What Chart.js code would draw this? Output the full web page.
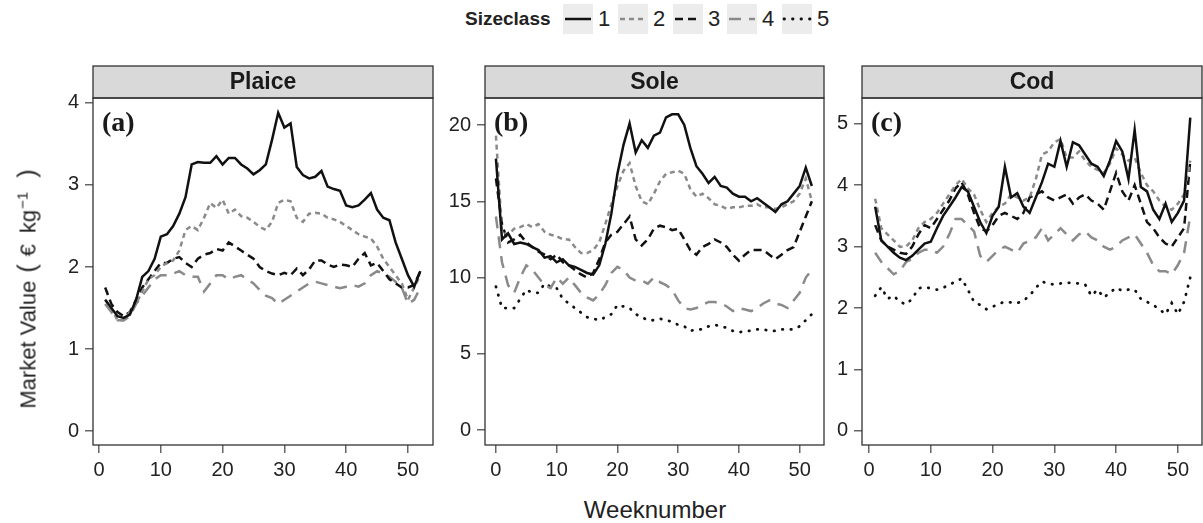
<!DOCTYPE html>
<html>
<head>
<meta charset="utf-8">
<script src="https://cdn.jsdelivr.net/npm/chart.js@4/dist/chart.umd.min.js"></script>
<style>
  body { margin: 0; background: #fff; font-family: "Liberation Sans", Arial, sans-serif; color: #222; }
  #wrap { position: relative; width: 1203px; height: 523px; overflow: hidden; }
  canvas.panel { position: absolute; }
  .abs { position: absolute; white-space: nowrap; }
  .keybox { position: absolute; top: 4px; width: 30px; height: 30px; background: #ececec; }
  .keylab { position: absolute; top: 5px; font-size: 22px; line-height: 28px; }
</style>
</head>
<body>
<div id="wrap">
  <div class="abs" style="left:465px; top:7px; font-size:19px; font-weight:bold; line-height:24px;">Sizeclass</div>
  <div id="legend"></div>

  <canvas class="panel" id="plaice" width="396" height="420" style="left:40px; top:60px;"></canvas>
  <canvas class="panel" id="sole" width="389" height="420" style="left:437px; top:60px;"></canvas>
  <canvas class="panel" id="cod" width="377" height="420" style="left:826px; top:60px;"></canvas>

  <div class="abs" style="left:27px; top:289px; font-size:22px; transform:translate(-50%,-50%) rotate(-90deg);">Market Value<span style="margin-left:8px; font-size:25px">(</span><span style="margin-left:8px">€</span><span style="margin-left:11px">kg</span><sup style="font-size:15px; margin-left:1px">−1</sup><span style="margin-left:14px; font-size:25px">)</span></div>
  <div class="abs" style="left:655px; top:510px; font-size:24px; transform:translate(-50%,-50%);">Weeknumber</div>
</div>

<script>
// week numbers per species
var plaiceWeeks = Array.from({length: 52}, (v, i) => i + 1);
var soleWeeks = Array.from({length: 53}, (v, i) => i);
var codWeeks = Array.from({length: 52}, (v, i) => i + 1);

var sizeClasses = ['1', '2', '3', '4', '5'];

// Plaice (no size class 5)
var plaice1 = [1.6,1.5,1.4,1.38,1.42,1.6,1.88,1.95,2.1,2.37, 2.4,2.5,2.65,2.85,3.25,3.28,3.27,3.27,3.35,3.25,
  3.33,3.33,3.25,3.2,3.13,3.18,3.25,3.55,3.88,3.7, 3.75,3.22,3.12,3.08,3.1,3.17,2.98,2.95,2.93,2.75,
  2.73,2.75,2.82,2.9,2.7,2.6,2.57,2.3,2.1,1.9, 1.76,1.95];
var plaice2 = [1.6,1.5,1.35,1.35,1.45,1.55,1.7,1.85,1.9,2.0, 2.05,2.08,2.2,2.45,2.5,2.45,2.6,2.78,2.72,2.82,
  2.65,2.7,2.62,2.6,2.55,2.49,2.45,2.55,2.78,2.82, 2.8,2.6,2.55,2.65,2.66,2.65,2.6,2.58,2.55,2.5,
  2.45,2.4,2.37,2.35,2.25,2.1,2.0,1.9,1.8,1.6, 1.75,1.9];
var plaice3 = [1.75,1.55,1.45,1.4,1.45,1.6,1.75,1.85,1.95,2.05, 2.05,2.1,2.12,2.05,2.0,2.1,2.15,2.17,2.22,2.2,
  2.3,2.25,2.2,2.15,2.1,2.0,1.95,1.92,1.9,1.93, 1.9,1.98,1.9,1.97,2.08,2.08,2.03,2.0,2.03,2.02,
  2.0,2.1,2.17,2.02,2.05,1.95,1.85,1.8,1.75,1.75, 1.78,1.95];
var plaice4 = [1.55,1.45,1.35,1.35,1.4,1.55,1.65,1.75,1.85,1.9, 1.9,1.92,1.95,1.9,1.88,1.88,1.7,1.8,1.9,1.9,
  1.85,1.88,1.9,1.85,1.8,1.72,1.65,1.62,1.55,1.6, 1.65,1.7,1.75,1.8,1.82,1.8,1.78,1.76,1.74,1.76,
  1.78,1.76,1.8,1.9,1.95,1.92,1.88,1.82,1.75,1.55, 1.6,1.75];

// Sole (weeks 0-52)
var sole1 = [17.8,12.5,12.9,12.2,12.3,12.2,12.0,11.8,11.3,11.4, 11.0,11.2,10.8,10.7,10.5,10.3,10.2,10.8,12.2,14.2,
  16.8,18.7,20.1,18.2,19.0,18.5,19.3,19.5,20.5,20.7, 20.7,20.0,18.5,17.3,16.8,16.2,16.6,16.0,15.9,15.5,
  15.3,15.3,15.0,15.2,14.9,14.6,14.3,14.8,15.0,15.5, 16.0,17.2,16.0];
var sole2 = [19.3,13.0,12.8,13.2,13.3,13.5,13.3,13.5,13.0,12.8, 12.7,12.5,12.5,12.0,11.6,11.6,11.8,12.3,13.5,14.8,
  16.0,17.0,17.5,16.0,15.0,14.8,15.5,16.3,16.8,16.9, 17.0,16.8,15.8,15.3,15.5,15.2,14.8,14.7,14.5,14.6,
  14.6,14.7,14.7,14.8,14.6,14.6,14.5,14.6,14.8,15.0, 15.5,16.5,15.0];
var sole3 = [16.5,13.5,12.3,12.5,12.8,12.3,12.0,11.7,11.5,11.2, 11.5,11.0,10.8,10.5,10.2,10.0,10.3,11.2,12.3,12.8,
  13.0,13.5,14.0,12.5,12.1,12.5,13.2,13.4,13.3,13.1, 13.2,12.5,11.8,11.5,12.0,12.2,12.5,12.3,12.0,11.5,
  11.1,11.5,11.8,11.8,11.8,11.5,11.2,11.5,11.8,12.0, 13.0,14.0,15.0];
var sole4 = [14.0,11.0,9.5,9.0,10.0,10.8,10.5,10.0,9.5,9.3, 10.0,9.6,10.0,9.5,9.0,8.7,8.5,8.9,9.5,10.3,
  10.7,10.5,10.0,9.8,9.8,9.6,10.0,9.7,9.5,9.2, 8.5,8.0,7.9,8.0,8.2,8.4,8.4,8.3,8.1,7.8,
  8.0,7.9,7.8,8.0,8.3,8.5,8.3,8.2,8.0,8.5, 9.0,10.0,10.5];
var sole5 = [9.4,8.0,8.0,8.0,8.6,9.2,9.0,9.0,9.6,9.4, 9.3,8.6,8.3,8.0,7.7,7.4,7.3,7.2,7.4,7.6,
  8.2,8.1,8.0,7.6,7.4,7.2,7.2,7.3,7.2,7.1, 6.9,6.8,6.5,6.6,6.6,6.8,6.9,6.8,6.7,6.5,
  6.4,6.5,6.5,6.6,6.6,6.5,6.5,6.6,6.6,6.6, 6.8,7.2,7.6];

// Cod
var cod1 = [3.65,3.1,3.0,2.9,2.82,2.78,2.85,2.95,3.05,3.08, 3.3,3.5,3.65,3.8,3.97,3.9,3.65,3.4,3.22,3.5,
  3.65,4.3,3.8,3.87,3.65,3.55,3.8,4.05,4.35,4.3, 4.72,4.3,4.7,4.65,4.5,4.35,4.3,4.15,4.4,4.72,
  4.55,4.1,4.9,3.97,3.9,3.6,3.45,3.7,3.4,3.55, 3.75,5.1];
var cod2 = [3.78,3.3,3.2,3.1,3.0,3.0,3.1,3.3,3.4,3.45, 3.55,3.7,3.85,4.0,4.1,3.95,3.85,3.6,3.4,3.55,
  3.65,3.7,3.85,3.8,3.75,3.8,4.1,4.5,4.55,4.7, 4.75,4.45,4.45,4.55,4.4,4.3,4.25,4.2,4.35,4.6,
  4.5,4.4,4.45,4.2,4.0,3.9,3.75,3.65,3.6,3.7, 3.85,4.4];
var cod3 = [3.35,3.1,3.0,2.95,2.9,2.88,3.0,3.2,3.35,3.3, 3.45,3.6,3.75,3.95,4.05,3.85,3.55,3.3,3.25,3.35,
  3.5,3.55,3.5,3.45,3.55,3.8,3.85,3.9,3.8,3.75, 3.8,3.85,3.7,3.8,3.85,3.75,3.7,3.6,3.9,4.2,
  3.9,3.75,4.0,3.7,3.4,3.3,3.15,3.05,3.0,3.15, 3.3,4.4];
var cod4 = [2.9,2.75,2.65,2.55,2.6,2.75,2.8,2.9,2.95,2.95, 2.9,3.0,3.2,3.45,3.45,3.35,3.25,2.85,2.75,2.85,
  2.95,3.0,2.95,2.9,3.05,3.1,3.15,3.3,3.1,3.2, 3.3,3.2,3.1,3.2,3.25,3.15,3.1,3.0,2.95,3.0,
  3.1,3.15,3.2,3.05,2.9,2.7,2.6,2.6,2.55,2.7, 2.9,3.5];
var cod5 = [2.2,2.34,2.15,2.2,2.1,2.06,2.15,2.32,2.34,2.32, 2.3,2.33,2.38,2.43,2.48,2.3,2.1,2.05,1.98,2.02,
  2.07,2.1,2.09,2.08,2.12,2.2,2.33,2.43,2.4,2.38, 2.4,2.41,2.41,2.4,2.38,2.2,2.3,2.17,2.25,2.33,
  2.28,2.3,2.3,2.15,2.1,2.05,1.98,1.9,2.08,1.9, 2.1,2.5];

// line style per size class
var lineColors = ['#111111', '#8a8a8a', '#111111', '#8a8a8a', '#111111'];
var lineDashes = [[], [5, 4], [8, 5], [12, 8], [0.5, 8]];
var lineWidths = [2.5, 2.5, 2.5, 2.5, 2.8];

var FONT = '"Liberation Sans", Arial, sans-serif';

// legend keys
var legend = document.getElementById('legend');
var keyLefts = [563, 618, 673, 727, 782];
sizeClasses.forEach(function(cls, i) {
  var box = document.createElement('div');
  box.className = 'keybox';
  box.style.left = keyLefts[i] + 'px';
  var c = document.createElement('canvas');
  c.width = 30; c.height = 30;
  box.appendChild(c);
  var g = c.getContext('2d');
  g.strokeStyle = lineColors[i];
  g.lineWidth = lineWidths[i];
  g.lineCap = i === 4 ? 'round' : 'butt';
  g.setLineDash(lineDashes[i]);
  g.beginPath(); g.moveTo(2, 15); g.lineTo(28, 15); g.stroke();
  legend.appendChild(box);
  var lab = document.createElement('div');
  lab.className = 'keylab';
  lab.style.left = (keyLefts[i] + 35) + 'px';
  lab.textContent = cls;
  legend.appendChild(lab);
});

// strip header, panel border and panel letter
var panelDecor = {
  id: 'panelDecor',
  afterDraw: function(chart, args, opts) {
    var ctx = chart.ctx, a = chart.chartArea;
    var w = a.right - a.left;
    ctx.save();
    ctx.fillStyle = '#d9d9d9';
    ctx.fillRect(a.left, opts.stripTop, w, a.top - opts.stripTop);
    ctx.strokeStyle = '#333';
    ctx.lineWidth = 1.3;
    ctx.strokeRect(a.left, opts.stripTop, w, a.top - opts.stripTop);
    ctx.strokeRect(a.left, a.top, w, a.bottom - a.top);
    ctx.fillStyle = '#1a1a1a';
    ctx.font = 'bold 23px ' + FONT;
    ctx.textAlign = 'center';
    ctx.textBaseline = 'middle';
    ctx.fillText(opts.title, a.left + w / 2, (opts.stripTop + a.top) / 2 + 1);
    ctx.font = 'bold 28px "Liberation Serif", "Times New Roman", serif';
    ctx.textAlign = 'left';
    ctx.fillText(opts.tag, a.left + 9, a.top + 26);
    ctx.restore();
  }
};

function makeDatasets(weeks, seriesList) {
  return seriesList.map(function(vals, i) {
    return {
      label: sizeClasses[i],
      data: weeks.map(function(w, j) { return {x: w, y: vals[j]}; }),
      borderColor: lineColors[i],
      borderWidth: lineWidths[i],
      borderDash: lineDashes[i],
      borderCapStyle: i === 4 ? 'round' : 'butt',
      pointRadius: 0,
      tension: 0,
      fill: false
    };
  });
}

function makePanel(id, weeks, seriesList, cfg) {
  var axisCommon = {
    type: 'linear',
    border: {display: false},
    grid: {drawOnChartArea: false, drawTicks: true, tickLength: 8, color: '#666', lineWidth: 1.5}
  };
  new Chart(document.getElementById(id), {
    type: 'line',
    data: {datasets: makeDatasets(weeks, seriesList)},
    options: {
      responsive: false,
      animation: false,
      devicePixelRatio: 1,
      layout: {padding: {top: 38, right: cfg.padRight, left: 0, bottom: 0}},
      plugins: {
        legend: {display: false},
        tooltip: {enabled: false},
        panelDecor: {title: cfg.title, tag: cfg.tag, stripTop: 6}
      },
      scales: {
        x: Object.assign({}, axisCommon, {
          min: cfg.xMin, max: cfg.xMax,
          afterFit: function(s) { s.height = 35; },
          ticks: {stepSize: 10, includeBounds: false, autoSkip: false, maxRotation: 0,
                  padding: 5, color: '#222', font: {size: 20, family: FONT}}
        }),
        y: Object.assign({}, axisCommon, {
          min: cfg.yMin, max: cfg.yMax,
          afterFit: function(s) { s.width = cfg.yWidth; },
          ticks: {stepSize: cfg.yStep, includeBounds: false, autoSkip: false,
                  padding: 6, color: '#222', font: {size: 20, family: FONT}}
        })
      }
    },
    plugins: [panelDecor]
  });
}

makePanel('plaice', plaiceWeeks, [plaice1, plaice2, plaice3, plaice4],
  {title: 'Plaice', tag: '(a)', xMin: -0.97, xMax: 54.05, yMin: -0.17, yMax: 4.06, yStep: 1, yWidth: 53, padRight: 3});
makePanel('sole', soleWeeks, [sole1, sole2, sole3, sole4, sole5],
  {title: 'Sole', tag: '(b)', xMin: -1.8, xMax: 54.0, yMin: -0.98, yMax: 21.77, yStep: 5, yWidth: 48, padRight: 2});
makePanel('cod', codWeeks, [cod1, cod2, cod3, cod4, cod5],
  {title: 'Cod', tag: '(c)', xMin: -1.13, xMax: 53.9, yMin: -0.23, yMax: 5.42, yStep: 1, yWidth: 36, padRight: 1});
</script>
</body>
</html>
